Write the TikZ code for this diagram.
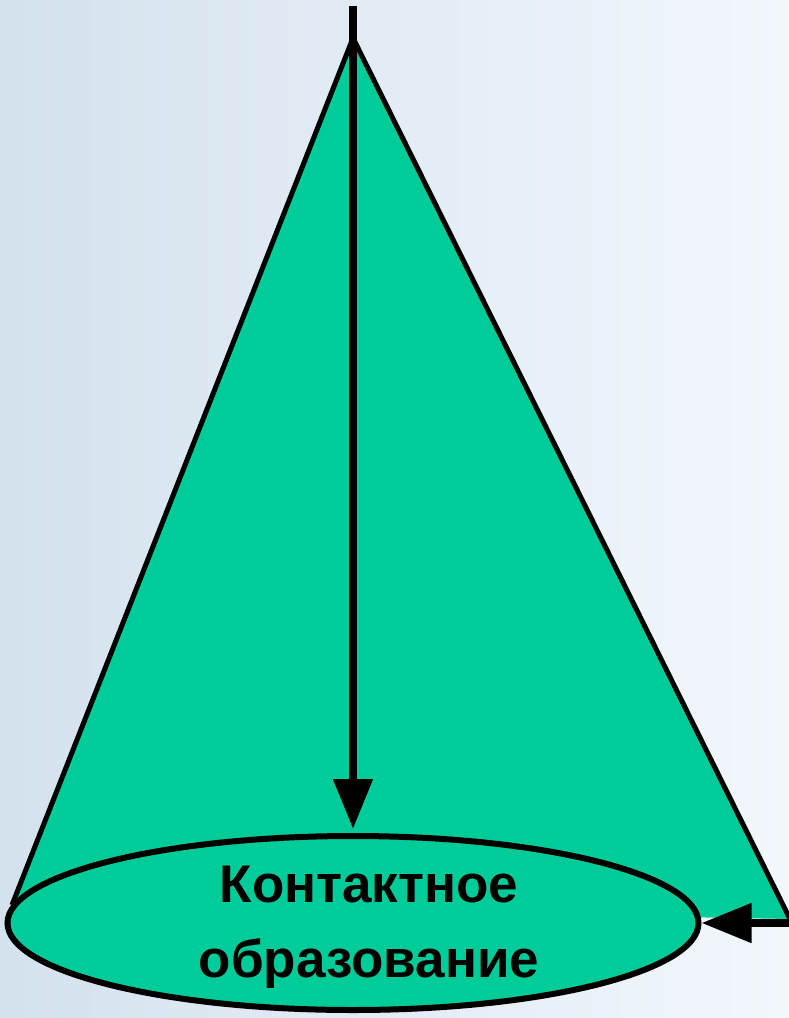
\documentclass[tikz,border=0pt]{standalone}
\usepackage{fontspec}
\setmainfont{Liberation Sans}
\usepackage{tikz}
\usetikzlibrary{shapes.geometric, arrows.meta}
\definecolor{conegreen}{RGB}{0,204,153}
\definecolor{bgblue}{RGB}{212,226,238}
\definecolor{bglight}{RGB}{242,247,252}
\tikzset{every node/.append style={font=\bfseries\fontsize{53}{75}\selectfont}}

\begin{document}
\begin{tikzpicture}[x=1pt, y=-1pt, >={Triangle[length=50pt,width=38pt]}]
    % background
    \shade[left color=bgblue, right color=bglight] (0,0) rectangle (788,1018);
    \useasboundingbox (0,0) rectangle (788,1018);
    \coordinate (top) at (353,6);
    \coordinate (apex) at (353,38);
    \coordinate (lcorner) at (12,905);
    \coordinate (rcorner) at (790,919);
    \coordinate (rend) at (790,923);
    % cone
    \fill[conegreen] (apex) -- (lcorner) -- (rcorner) -- cycle;
    \draw[line width=5pt] (lcorner) -- (apex) -- (rcorner);
    \draw[->, line width=8pt] (top) -- (353,829);
    \node[draw, ellipse, line width=6pt, fill=conegreen, minimum width=691pt, minimum height=174pt, inner sep=0pt] (base) at (353,923) {};
    \node[align=center] (basetext) at (369,927) {Контактное\\образование};
    \draw[->, line width=8pt] (rend) -- (base.east);
\end{tikzpicture}
\end{document}
